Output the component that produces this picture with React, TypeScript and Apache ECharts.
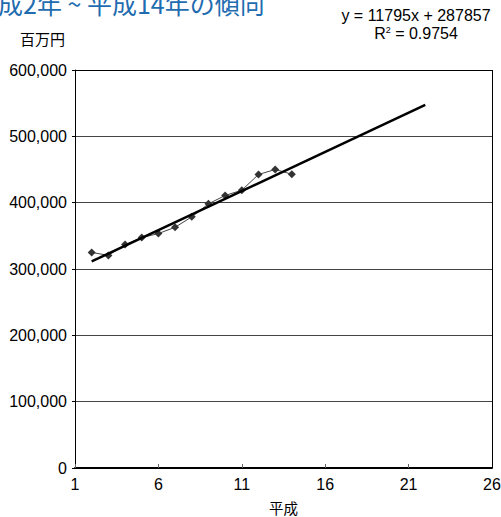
import React, { useEffect, useRef } from "react";
import * as echarts from "echarts";

const years = [2, 3, 4, 5, 6, 7, 8, 9, 10, 11, 12, 13, 14];
const values = [325000, 320500, 336800, 347400, 353400, 362900, 378600, 398200, 410800, 418800, 442500, 450000, 442900];
const trendSlope = 11795;
const trendIntercept = 287857;
const trendRange = [2, 22];
const xTickLabels = [1, 6, 11, 16, 21, 26];
const yTicks = [0, 100000, 200000, 300000, 400000, 500000, 600000];

const X_OFFSET = 1; // axis runs 0..25 internally so min is a multiple of interval

export default function App() {
  const ref = useRef<HTMLDivElement>(null);
  useEffect(() => {
    const chart = echarts.init(ref.current!, null, { renderer: "svg" });
    const dataPts = years.map((y, i) => [y - X_OFFSET, values[i]]);
    const trendPts = trendRange.map((x) => [x - X_OFFSET, trendSlope * x + trendIntercept]);
    const font = "'Liberation Sans', Arial, sans-serif";
    const jp = "'Noto Sans CJK JP', sans-serif";
    chart.setOption({
      animation: false,
      backgroundColor: "#fff",
      grid: { left: 75, right: 9, top: 70, bottom: 49, containLabel: false, outerBoundsMode: "none" },
      graphic: [
        {
          type: "text",
          left: -27,
          top: -10,
          style: { text: "平成2年 ~ 平成14年の傾向", fill: "#1f6cb0", font: `25px ${jp}` },
        },
        {
          type: "text",
          left: 20,
          top: 31,
          style: { text: "百万円", fill: "#000", font: `15px ${jp}` },
        },
        {
          type: "text",
          x: 416,
          y: 15,
          style: {
            text: "y = 11795x + 287857",
            fill: "#000",
            font: `16px ${font}`,
            align: "center",
            verticalAlign: "middle",
          },
        },
        {
          type: "text",
          x: 416,
          y: 33,
          style: {
            text: "{a|R}{s|2}{a| = 0.9754}",
            align: "center",
            verticalAlign: "middle",
            rich: {
              a: { fontSize: 16, fontFamily: font, fill: "#000", verticalAlign: "bottom" },
              s: { fontSize: 9, fontFamily: font, fill: "#000", verticalAlign: "top", padding: [0, 0, 7, 0] },
            },
          },
        },
      ],
      xAxis: {
        type: "value",
        min: 0,
        max: 25,
        interval: 5,
        name: "平成",
        nameLocation: "middle",
        nameGap: 31,
        nameTextStyle: { fontFamily: jp, fontSize: 14.5, color: "#000", lineHeight: 16 },
        axisLine: { show: true, lineStyle: { color: "#000", width: 2 } },
        axisTick: { show: true, inside: true, length: 4, lineStyle: { color: "#666" } },
        axisLabel: {
          color: "#000",
          fontFamily: font,
          fontSize: 16,
          margin: 8,
          formatter: (v: number) => {
            const lbl = v + X_OFFSET;
            return xTickLabels.includes(lbl) ? String(lbl) : "";
          },
        },
        splitLine: { show: false },
      },
      yAxis: {
        type: "value",
        min: yTicks[0],
        max: yTicks[yTicks.length - 1],
        interval: 100000,
        axisLine: { show: true, lineStyle: { color: "#000", width: 1 } },
        axisTick: { show: true, length: 3, lineStyle: { color: "#000" } },
        axisLabel: {
          color: "#000",
          fontFamily: font,
          fontSize: 16,
          margin: 8,
          formatter: (v: number) => v.toLocaleString("en-US"),
        },
        splitLine: { show: true, lineStyle: { color: "#444", width: 1 } },
      },
      series: [
        {
          type: "line",
          data: dataPts,
          symbol: "diamond",
          symbolSize: 8,
          itemStyle: { color: "#333" },
          lineStyle: { color: "#444", width: 1 },
          z: 2,
        },
        {
          type: "line",
          data: trendPts,
          symbol: "none",
          lineStyle: { color: "#000", width: 2.5 },
          z: 3,
        },
        {
          type: "line",
          data: [],
          markLine: {
            silent: true,
            symbol: "none",
            label: { show: false },
            lineStyle: { color: "#000", width: 1, type: "solid" },
            data: [
              [{ coord: [0, 600000] }, { coord: [25, 600000] }],
              [{ coord: [25, 0] }, { coord: [25, 600000] }],
            ],
          },
        },
      ],
    });
    return () => chart.dispose();
  }, []);
  return <div ref={ref} style={{ width: 501, height: 517, position: "absolute", left: 0, top: 0 }} />;
}
